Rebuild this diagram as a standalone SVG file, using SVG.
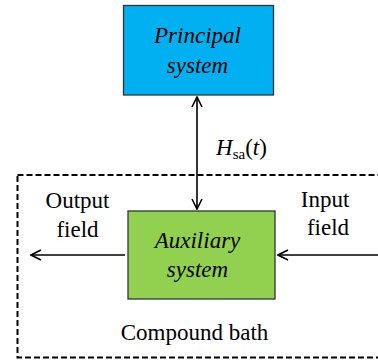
<svg xmlns="http://www.w3.org/2000/svg" width="378" height="362" viewBox="0 0 378 362" font-family="Liberation Serif, DejaVu Serif, Times New Roman, serif">
<defs>
<marker id="open" viewBox="0 0 12 12" refX="11" refY="6" markerWidth="12" markerHeight="12" markerUnits="userSpaceOnUse" orient="auto-start-reverse">
<path d="M1,1 L11,6 L1,11" fill="none" stroke="#000" stroke-width="1.6"/>
</marker>
<style>
text{font-size:23px;fill:#000}
.it{font-style:italic}
.box{stroke:#333;stroke-width:1.3}
.ln{stroke:#000;stroke-width:1.6;fill:none}
</style>
</defs>
<g id="bath">
<rect x="17.5" y="175" width="370" height="182.5" fill="none" stroke="#000" stroke-width="2" stroke-dasharray="6,3"/>
<text x="194.5" y="340" text-anchor="middle">Compound bath</text>
</g>
<g id="principal">
<rect class="box" x="123.5" y="5.5" width="150" height="89.5" fill="#00B0F0"/>
<text class="it" x="197.5" y="43" text-anchor="middle">Principal</text>
<text class="it" x="197.5" y="73" text-anchor="middle">system</text>
</g>
<g id="auxiliary">
<rect class="box" x="128" y="211" width="147" height="88" fill="#92D050"/>
<text class="it" x="197.5" y="248" text-anchor="middle">Auxiliary</text>
<text class="it" x="197.5" y="277" text-anchor="middle">system</text>
</g>
<g id="connectors">
<line class="ln" x1="197" y1="97" x2="197" y2="209" marker-start="url(#open)" marker-end="url(#open)"/>
<line class="ln" x1="125" y1="255" x2="31" y2="255" marker-end="url(#open)"/>
<line class="ln" x1="378" y1="255" x2="278" y2="255" marker-end="url(#open)"/>
</g>
<g id="labels">
<text x="216" y="155"><tspan class="it">H</tspan><tspan font-size="15" dy="4">sa</tspan><tspan dy="-4">(</tspan><tspan class="it">t</tspan>)</text>
<text x="77.5" y="208" text-anchor="middle">Output</text>
<text x="77.5" y="237" text-anchor="middle">field</text>
<text x="325" y="207" text-anchor="middle">Input</text>
<text x="328" y="235" text-anchor="middle">field</text>
</g>
</svg>
